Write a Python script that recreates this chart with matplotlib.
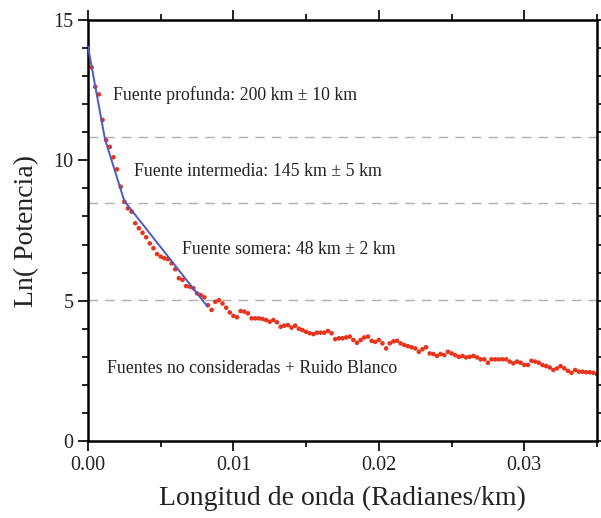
import numpy as np
import matplotlib.pyplot as plt
from matplotlib.ticker import MultipleLocator, FormatStrFormatter

plt.rcParams['font.family'] = ['Liberation Serif', 'DejaVu Serif']

# wavenumber step of the spectrum samples
dk = 0.00025
ln_power = [
    13.31, 12.62, 12.35, 11.44, 10.72, 10.48, 10.11, 9.68, 9.06, 8.53,
    8.29, 8.17, 7.76, 7.58, 7.42, 7.26, 7.04, 6.87, 6.66, 6.57,
    6.51, 6.48, 6.33, 6.12, 5.80, 5.74, 5.52, 5.50, 5.44, 5.26,
    5.20, 5.12, 4.84, 4.67, 4.96, 5.02, 4.90, 4.75, 4.58, 4.46,
    4.41, 4.63, 4.61, 4.55, 4.37, 4.37, 4.37, 4.35, 4.31, 4.25,
    4.31, 4.23, 4.07, 4.11, 4.13, 4.04, 4.11, 4.00, 3.95, 3.89,
    3.84, 3.81, 3.86, 3.86, 3.86, 3.92, 3.84, 3.63, 3.66, 3.66,
    3.69, 3.72, 3.60, 3.50, 3.60, 3.69, 3.72, 3.57, 3.53, 3.60,
    3.48, 3.30, 3.48, 3.55, 3.57, 3.48, 3.42, 3.38, 3.34, 3.30,
    3.18, 3.27, 3.34, 3.12, 3.10, 3.03, 3.10, 3.06, 3.18, 3.12,
    3.06, 3.00, 3.03, 2.98, 3.00, 3.03, 2.98, 2.91, 2.91, 2.79,
    2.91, 2.91, 2.91, 2.91, 2.91, 2.83, 2.77, 2.83, 2.79, 2.71,
    2.71, 2.86, 2.83, 2.79, 2.71, 2.67, 2.62, 2.53, 2.59, 2.67,
    2.59, 2.50, 2.43, 2.53, 2.47, 2.47, 2.45, 2.45, 2.43, 2.39,
]
wavenumber = dk * np.arange(1, len(ln_power) + 1)

# straight-line fits (break points)
fit_x = [0.0, 0.00117, 0.00250, 0.00820]
fit_y = [14.05, 10.75, 8.55, 4.80]

# depth limits between sources
limits = [10.83, 8.48, 5.02]

labels = ['Fuente profunda: 200 km \u00b1 10 km',
          'Fuente intermedia: 145 km \u00b1 5 km',
          'Fuente somera: 48 km \u00b1 2 km',
          'Fuentes no consideradas + Ruido Blanco']
label_x = [0.00172, 0.00317, 0.00648, 0.00131]
label_y = [12.33, 9.62, 6.84, 2.60]

fig = plt.figure(figsize=(6.01, 5.18), dpi=100)
ax = fig.add_axes([0.1464, 0.1486, 0.8469, 0.8128])

for y in limits:
    ax.axhline(y, color='#b0b0b0', lw=1.0, ls=(0, (7, 5)), zorder=1)

ax.scatter(wavenumber, ln_power, s=11, color='#e8341c', edgecolors='none', zorder=2)
ax.plot(fit_x, fit_y, color='#4a5bc4', lw=1.4, zorder=3)

for txt, x, y in zip(labels, label_x, label_y):
    ax.text(x, y, txt, fontsize=12.8, va='center', ha='left', color='#222222')

ax.set_xlim(0, 0.035)
ax.set_ylim(0, 15)
ax.xaxis.set_major_locator(MultipleLocator(0.01))
ax.xaxis.set_minor_locator(MultipleLocator(0.005))
ax.xaxis.set_major_formatter(FormatStrFormatter('%.2f'))
ax.yaxis.set_major_locator(MultipleLocator(5))
ax.yaxis.set_minor_locator(MultipleLocator(1))
ax.tick_params(which='both', direction='out', top=True, right=True,
               labelsize=14.5, width=1.3, color='#111111', labelcolor='#222222')
ax.tick_params(which='major', length=7)
ax.tick_params(which='minor', length=4)
for s in ax.spines.values():
    s.set_linewidth(1.8)

ax.set_xlabel('Longitud de onda (Radianes/km)', fontsize=20, labelpad=8, color='#222222')
ax.set_ylabel('Ln( Potencia)', fontsize=20, labelpad=10, color='#222222')

fig.savefig('out.png', dpi=100)
